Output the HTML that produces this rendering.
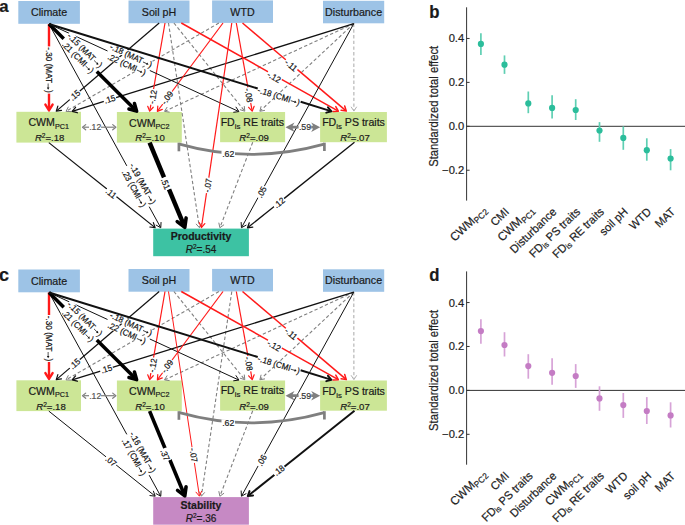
<!DOCTYPE html>
<html><head><meta charset="utf-8"><title>SEM figure</title>
<style>html,body{margin:0;padding:0;background:#fff;width:685px;height:525px;overflow:hidden}
svg{display:block;font-family:"Liberation Sans",sans-serif}</style></head>
<body><svg width="685" height="525" viewBox="0 0 685 525" font-family="Liberation Sans, sans-serif"><rect width="685" height="525" fill="#fff"/><rect x="18.3" y="1" width="61.6" height="22.8" fill="#9dc3e6"/><rect x="128.5" y="0.5" width="61" height="22.7" fill="#9dc3e6"/><rect x="212.1" y="0.4" width="60.9" height="22.5" fill="#9dc3e6"/><rect x="323" y="0.8" width="61.2" height="22.5" fill="#9dc3e6"/><rect x="16.4" y="111.8" width="64.6" height="30.8" fill="#cce696"/><rect x="116.9" y="112" width="64.9" height="30.6" fill="#cce696"/><rect x="220.1" y="112" width="65" height="30.2" fill="#cce696"/><rect x="320.1" y="112" width="66.8" height="30.2" fill="#cce696"/><rect x="153.2" y="228.6" width="95.7" height="27.6" fill="#3dc2a3"/><line x1="173.9" y1="23" x2="244.27" y2="110.57" stroke="#808080" stroke-width="1.1" stroke-dasharray="3.4,2.3" stroke-linecap="butt"/><polyline points="240.25,109.72 244.79,111.21 244.31,106.46" fill="none" stroke="#808080" stroke-width="1" stroke-linejoin="round" stroke-linecap="round"/><line x1="218.9" y1="23" x2="66.74" y2="110.94" stroke="#808080" stroke-width="1.1" stroke-dasharray="3.4,2.3" stroke-linecap="butt"/><polyline points="68.2,107.1 66.03,111.35 70.8,111.6" fill="none" stroke="#808080" stroke-width="1" stroke-linejoin="round" stroke-linecap="round"/><line x1="353.8" y1="23.6" x2="165.2" y2="111.04" stroke="#808080" stroke-width="1.1" stroke-dasharray="3.4,2.3" stroke-linecap="butt"/><polyline points="166.99,107.35 164.45,111.39 169.18,112.07" fill="none" stroke="#808080" stroke-width="1" stroke-linejoin="round" stroke-linecap="round"/><line x1="353.8" y1="23.6" x2="260.47" y2="110.7" stroke="#808080" stroke-width="1.1" stroke-dasharray="3.4,2.3" stroke-linecap="butt"/><polyline points="261.02,106.63 259.87,111.26 264.56,110.43" fill="none" stroke="#808080" stroke-width="1" stroke-linejoin="round" stroke-linecap="round"/><line x1="353.8" y1="23.6" x2="353.9" y2="110.28" stroke="#b0b0b0" stroke-width="1.1" stroke-dasharray="3.4,2.3" stroke-linecap="butt"/><polyline points="351.29,107.1 353.9,111.1 356.49,107.1" fill="none" stroke="#b0b0b0" stroke-width="1" stroke-linejoin="round" stroke-linecap="round"/><line x1="252.7" y1="142.3" x2="220.17" y2="226.97" stroke="#808080" stroke-width="1.1" stroke-dasharray="3.4,2.3" stroke-linecap="butt"/><polyline points="218.89,223.07 219.88,227.73 223.74,224.93" fill="none" stroke="#808080" stroke-width="1" stroke-linejoin="round" stroke-linecap="round"/><line x1="168.5" y1="23" x2="199.3" y2="226.89" stroke="#808080" stroke-width="1.1" stroke-dasharray="3.4,2.3" stroke-linecap="butt"/><polyline points="196.26,224.14 199.43,227.71 201.4,223.36" fill="none" stroke="#808080" stroke-width="1" stroke-linejoin="round" stroke-linecap="round"/><line x1="49" y1="24" x2="49" y2="46.71" stroke="#ff1a1a" stroke-width="2.4" stroke-linecap="butt"/><line x1="49" y1="93.29" x2="49" y2="108.72" stroke="#ff1a1a" stroke-width="2.4" stroke-linecap="butt"/><polyline points="45.4,104.6 49,110.4 52.6,104.6" fill="none" stroke="#ff1a1a" stroke-width="2.4" stroke-linejoin="round" stroke-linecap="round"/><line x1="159.2" y1="23" x2="79.57" y2="91.23" stroke="#111" stroke-width="1.2" stroke-linecap="butt"/><line x1="70.03" y1="99.4" x2="56.89" y2="110.66" stroke="#111" stroke-width="1.2" stroke-linecap="butt"/><polyline points="57.85,106.16 56.26,111.21 61.49,110.41" fill="none" stroke="#111" stroke-width="1.2" stroke-linejoin="round" stroke-linecap="round"/><line x1="353.8" y1="23.6" x2="115.98" y2="97.73" stroke="#111" stroke-width="1.3" stroke-linecap="butt"/><line x1="103.99" y1="101.47" x2="72.99" y2="111.14" stroke="#111" stroke-width="1.3" stroke-linecap="butt"/><polyline points="75.58,107.39 72.12,111.41 77.25,112.74" fill="none" stroke="#111" stroke-width="1.3" stroke-linejoin="round" stroke-linecap="round"/><line x1="165" y1="23" x2="153.5" y2="89.29" stroke="#ff1a1a" stroke-width="1.2" stroke-linecap="butt"/><line x1="150.89" y1="104.34" x2="149.85" y2="110.38" stroke="#ff1a1a" stroke-width="1.2" stroke-linecap="butt"/><polyline points="147.71,106.3 149.7,111.21 153.23,107.25" fill="none" stroke="#ff1a1a" stroke-width="1.2" stroke-linejoin="round" stroke-linecap="round"/><line x1="223" y1="23" x2="171.9" y2="91.75" stroke="#ff1a1a" stroke-width="1.2" stroke-linecap="butt"/><line x1="162.79" y1="104.01" x2="157.86" y2="110.64" stroke="#ff1a1a" stroke-width="1.2" stroke-linecap="butt"/><polyline points="157.8,106.04 157.36,111.32 162.29,109.38" fill="none" stroke="#ff1a1a" stroke-width="1.2" stroke-linejoin="round" stroke-linecap="round"/><line x1="236.3" y1="23" x2="247.94" y2="87.61" stroke="#ff1a1a" stroke-width="1.2" stroke-linecap="butt"/><line x1="250.65" y1="102.65" x2="252.04" y2="110.38" stroke="#ff1a1a" stroke-width="1.2" stroke-linecap="butt"/><polyline points="248.64,107.28 252.19,111.21 254.15,106.28" fill="none" stroke="#ff1a1a" stroke-width="1.2" stroke-linejoin="round" stroke-linecap="round"/><line x1="242.5" y1="23" x2="286.04" y2="59.95" stroke="#ff1a1a" stroke-width="1.5" stroke-linecap="butt"/><line x1="297.22" y1="69.44" x2="345.53" y2="110.44" stroke="#ff1a1a" stroke-width="1.5" stroke-linecap="butt"/><polyline points="341.09,110.34 346.33,111.11 344.71,106.07" fill="none" stroke="#ff1a1a" stroke-width="1.5" stroke-linejoin="round" stroke-linecap="round"/><line x1="181.3" y1="23" x2="268.24" y2="71.84" stroke="#ff1a1a" stroke-width="1.5" stroke-linecap="butt"/><line x1="281.55" y1="79.33" x2="337.43" y2="110.72" stroke="#ff1a1a" stroke-width="1.5" stroke-linecap="butt"/><polyline points="333.05,111.47 338.35,111.23 335.79,106.59" fill="none" stroke="#ff1a1a" stroke-width="1.5" stroke-linejoin="round" stroke-linecap="round"/><line x1="49" y1="24" x2="107.52" y2="50.98" stroke="#111" stroke-width="1" stroke-linecap="butt"/><line x1="149.81" y1="70.49" x2="238.31" y2="111.3" stroke="#111" stroke-width="1" stroke-linecap="butt"/><polyline points="233.69,112.25 238.95,111.59 236.03,107.16" fill="none" stroke="#111" stroke-width="1" stroke-linejoin="round" stroke-linecap="round"/><line x1="231.8" y1="23" x2="208.79" y2="177.84" stroke="#ff1a1a" stroke-width="1.2" stroke-linecap="butt"/><line x1="206.54" y1="192.95" x2="201.51" y2="226.78" stroke="#ff1a1a" stroke-width="1.2" stroke-linecap="butt"/><polyline points="199.28,222.74 201.39,227.61 204.82,223.57" fill="none" stroke="#ff1a1a" stroke-width="1.2" stroke-linejoin="round" stroke-linecap="round"/><line x1="49" y1="24" x2="126.81" y2="165.86" stroke="#111" stroke-width="1" stroke-linecap="butt"/><line x1="149.2" y1="206.69" x2="160.42" y2="227.15" stroke="#111" stroke-width="1" stroke-linecap="butt"/><polyline points="156.14,225.16 160.76,227.76 161.05,222.47" fill="none" stroke="#111" stroke-width="1" stroke-linejoin="round" stroke-linecap="round"/><line x1="48.8" y1="142.6" x2="106.93" y2="189.08" stroke="#111" stroke-width="1.2" stroke-linecap="butt"/><line x1="116.26" y1="196.54" x2="154.48" y2="227.1" stroke="#111" stroke-width="1.2" stroke-linecap="butt"/><polyline points="149.87,227 155.13,227.63 153.37,222.63" fill="none" stroke="#111" stroke-width="1.2" stroke-linejoin="round" stroke-linecap="round"/><line x1="149.6" y1="142.6" x2="164.12" y2="177.56" stroke="#000" stroke-width="4.5" stroke-linecap="butt"/><line x1="168.94" y1="189.15" x2="183.43" y2="224.01" stroke="#000" stroke-width="4.5" stroke-linecap="butt"/><polyline points="177.23,221.61 184.81,227.34 186.1,217.92" fill="none" stroke="#000" stroke-width="3.6" stroke-linejoin="round" stroke-linecap="round"/><line x1="353.8" y1="23.6" x2="264.22" y2="186.37" stroke="#111" stroke-width="1" stroke-linecap="butt"/><line x1="258.16" y1="197.38" x2="241.78" y2="227.15" stroke="#111" stroke-width="1" stroke-linecap="butt"/><polyline points="241.16,222.47 241.44,227.76 246.06,225.17" fill="none" stroke="#111" stroke-width="1" stroke-linejoin="round" stroke-linecap="round"/><line x1="354.5" y1="142.2" x2="283.96" y2="198.63" stroke="#111" stroke-width="1.3" stroke-linecap="butt"/><line x1="274.16" y1="206.47" x2="248.22" y2="227.23" stroke="#111" stroke-width="1.3" stroke-linecap="butt"/><polyline points="249.27,222.8 247.51,227.79 252.77,227.17" fill="none" stroke="#111" stroke-width="1.3" stroke-linejoin="round" stroke-linecap="round"/><line x1="49" y1="24" x2="63.78" y2="38.7" stroke="#000" stroke-width="3.5" stroke-linecap="butt"/><line x1="96.8" y1="71.53" x2="134.92" y2="109.44" stroke="#000" stroke-width="3.5" stroke-linecap="butt"/><polyline points="128.95,109 136.66,111.17 134.45,103.46" fill="none" stroke="#000" stroke-width="3.5" stroke-linejoin="round" stroke-linecap="round"/><g transform="translate(49,70) rotate(90) scale(0.95,1)"><rect x="-24.68" y="-3.61" width="49.36" height="7.22" fill="#fff"/><text x="-23.88" y="3.1" font-size="8.6" fill="#111" stroke="#111" stroke-width="0.2">-.30 (MAT</text><line x1="14.22" y1="0.86" x2="19.33" y2="0.86" stroke="#111" stroke-width="0.73"/><polygon points="20.67,0.86 18.44,-0.43 18.44,2.15" fill="#111"/><text x="21.02" y="3.1" font-size="8.6" fill="#111" stroke="#111" stroke-width="0.2">)</text></g><g transform="translate(74.7,95.2) rotate(-40.59) scale(0.95,1)"><rect x="-6.78" y="-3.61" width="13.55" height="7.22" fill="#fff"/><text x="0" y="3.1" text-anchor="middle" font-size="8.6" fill="#111" stroke="#111" stroke-width="0.2">.15</text></g><g transform="translate(109.8,99) rotate(-17.31) scale(0.95,1)"><rect x="-6.78" y="-3.61" width="13.55" height="7.22" fill="#fff"/><text x="0" y="3.1" text-anchor="middle" font-size="8.6" fill="#111" stroke="#111" stroke-width="0.2">.15</text></g><g transform="translate(152.7,96.9) rotate(-80.16) scale(0.95,1)"><rect x="-8.21" y="-3.61" width="16.42" height="7.22" fill="#fff"/><text x="0" y="3.1" text-anchor="middle" font-size="8.6" fill="#111" stroke="#111" stroke-width="0.2">-.12</text></g><g transform="translate(167.1,97.7) rotate(-53.38) scale(0.95,1)"><rect x="-8.21" y="-3.61" width="16.42" height="7.22" fill="#fff"/><text x="0" y="3.1" text-anchor="middle" font-size="8.6" fill="#111" stroke="#111" stroke-width="0.2">-.09</text></g><g transform="translate(248.9,95.2) rotate(79.79) scale(0.95,1)"><rect x="-8.21" y="-3.61" width="16.42" height="7.22" fill="#fff"/><text x="0" y="3.1" text-anchor="middle" font-size="8.6" fill="#111" stroke="#111" stroke-width="0.2">-.08</text></g><g transform="translate(291.2,65.2) rotate(40.32) scale(0.95,1)"><rect x="-7.89" y="-3.61" width="15.78" height="7.22" fill="#fff"/><text x="0" y="3.1" text-anchor="middle" font-size="8.6" fill="#111" stroke="#111" stroke-width="0.2">-.11</text></g><g transform="translate(274.1,77) rotate(29.33) scale(0.95,1)"><rect x="-8.21" y="-3.61" width="16.42" height="7.22" fill="#fff"/><text x="0" y="3.1" text-anchor="middle" font-size="8.6" fill="#111" stroke="#111" stroke-width="0.2">-.12</text></g><g transform="translate(129,60) rotate(24.76) scale(0.95,1)"><rect x="-24.68" y="-8.56" width="49.36" height="7.22" fill="#fff"/><text x="-23.88" y="-1.85" font-size="8.6" fill="#111" stroke="#111" stroke-width="0.2">-.18 (MAT</text><line x1="14.22" y1="-4.08" x2="19.33" y2="-4.08" stroke="#111" stroke-width="0.73"/><polygon points="20.67,-4.08 18.44,-5.37 18.44,-2.79" fill="#111"/><text x="21.02" y="-1.85" font-size="8.6" fill="#111" stroke="#111" stroke-width="0.2">)</text><rect x="-22.37" y="1.33" width="44.74" height="7.22" fill="#fff"/><text x="-21.57" y="8.04" font-size="8.6" fill="#111" stroke="#111" stroke-width="0.2">.22 (CMI</text><line x1="11.91" y1="5.8" x2="17.02" y2="5.8" stroke="#111" stroke-width="0.73"/><polygon points="18.36,5.8 16.13,4.51 16.13,7.09" fill="#111"/><text x="18.71" y="8.04" font-size="8.6" fill="#111" stroke="#111" stroke-width="0.2">)</text></g><g transform="translate(207.7,185.4) rotate(-81.55) scale(0.95,1)"><rect x="-8.21" y="-3.61" width="16.42" height="7.22" fill="#fff"/><text x="0" y="3.1" text-anchor="middle" font-size="8.6" fill="#111" stroke="#111" stroke-width="0.2">-.07</text></g><g transform="translate(138.5,186) rotate(61.26) scale(0.95,1)"><rect x="-24.68" y="-8.56" width="49.36" height="7.22" fill="#fff"/><text x="-23.88" y="-1.85" font-size="8.6" fill="#111" stroke="#111" stroke-width="0.2">-.19 (MAT</text><line x1="14.22" y1="-4.08" x2="19.33" y2="-4.08" stroke="#111" stroke-width="0.73"/><polygon points="20.67,-4.08 18.44,-5.37 18.44,-2.79" fill="#111"/><text x="21.02" y="-1.85" font-size="8.6" fill="#111" stroke="#111" stroke-width="0.2">)</text><rect x="-22.37" y="1.33" width="44.74" height="7.22" fill="#fff"/><text x="-21.57" y="8.04" font-size="8.6" fill="#111" stroke="#111" stroke-width="0.2">.23 (CMI</text><line x1="11.91" y1="5.8" x2="17.02" y2="5.8" stroke="#111" stroke-width="0.73"/><polygon points="18.36,5.8 16.13,4.51 16.13,7.09" fill="#111"/><text x="18.71" y="8.04" font-size="8.6" fill="#111" stroke="#111" stroke-width="0.2">)</text></g><g transform="translate(111.2,193.3) rotate(38.65) scale(0.95,1)"><rect x="-6.46" y="-3.61" width="12.92" height="7.22" fill="#fff"/><text x="0" y="3.1" text-anchor="middle" font-size="8.6" fill="#111" stroke="#111" stroke-width="0.2">.11</text></g><g transform="translate(165.7,183.7) rotate(67.44) scale(0.95,1)"><rect x="-6.78" y="-3.61" width="13.55" height="7.22" fill="#fff"/><text x="0" y="3.1" text-anchor="middle" font-size="8.6" fill="#111" stroke="#111" stroke-width="0.2">.51</text></g><g transform="translate(261.6,192.1) rotate(-61.17) scale(0.95,1)"><rect x="-6.78" y="-3.61" width="13.55" height="7.22" fill="#fff"/><text x="0" y="3.1" text-anchor="middle" font-size="8.6" fill="#111" stroke="#111" stroke-width="0.2">.05</text></g><g transform="translate(279.1,202.6) rotate(-38.66) scale(0.95,1)"><rect x="-6.78" y="-3.61" width="13.55" height="7.22" fill="#fff"/><text x="0" y="3.1" text-anchor="middle" font-size="8.6" fill="#111" stroke="#111" stroke-width="0.2">.12</text></g><g transform="translate(81.6,53.8) rotate(44.84) scale(0.95,1)"><rect x="-24.68" y="-8.56" width="49.36" height="7.22" fill="#fff"/><text x="-23.88" y="-1.85" font-size="8.6" fill="#111" stroke="#111" stroke-width="0.2">-.15 (MAT</text><line x1="14.22" y1="-4.08" x2="19.33" y2="-4.08" stroke="#111" stroke-width="0.73"/><polygon points="20.67,-4.08 18.44,-5.37 18.44,-2.79" fill="#111"/><text x="21.02" y="-1.85" font-size="8.6" fill="#111" stroke="#111" stroke-width="0.2">)</text><rect x="-22.37" y="1.33" width="44.74" height="7.22" fill="#fff"/><text x="-21.57" y="8.04" font-size="8.6" fill="#111" stroke="#111" stroke-width="0.2">.21 (CMI</text><line x1="11.91" y1="5.8" x2="17.02" y2="5.8" stroke="#111" stroke-width="0.73"/><polygon points="18.36,5.8 16.13,4.51 16.13,7.09" fill="#111"/><text x="18.71" y="8.04" font-size="8.6" fill="#111" stroke="#111" stroke-width="0.2">)</text></g><g transform="translate(278.9,96.1) rotate(17.18) scale(0.95,1)"><rect x="-23.8" y="-3.61" width="47.61" height="7.22" fill="#fff"/><text x="-23" y="3.1" font-size="8.6" fill="#111" stroke="#111" stroke-width="0.2">-.18 (CMI</text><line x1="13.35" y1="0.86" x2="18.45" y2="0.86" stroke="#111" stroke-width="0.73"/><polygon points="19.8,0.86 17.56,-0.43 17.56,2.15" fill="#111"/><text x="20.14" y="3.1" font-size="8.6" fill="#111" stroke="#111" stroke-width="0.2">)</text></g><line x1="49" y1="24" x2="257.74" y2="88.52" stroke="#111" stroke-width="2" stroke-linecap="butt"/><line x1="300.64" y1="101.78" x2="330.11" y2="110.89" stroke="#111" stroke-width="2" stroke-linecap="butt"/><polyline points="326.32,112.65 331.44,111.3 327.97,107.3" fill="none" stroke="#111" stroke-width="2" stroke-linejoin="round" stroke-linecap="round"/><line x1="84" y1="127.2" x2="89" y2="127.2" stroke="#7f7f7f" stroke-width="1.2" stroke-linecap="butt"/><line x1="101" y1="127.2" x2="114.5" y2="127.2" stroke="#7f7f7f" stroke-width="1.2" stroke-linecap="butt"/><polyline points="85.7,124.6 82.5,127.2 85.7,129.8" fill="none" stroke="#7f7f7f" stroke-width="1.2" stroke-linejoin="round" stroke-linecap="round"/><polyline points="112.7,129.8 115.9,127.2 112.7,124.6" fill="none" stroke="#7f7f7f" stroke-width="1.2" stroke-linejoin="round" stroke-linecap="round"/><text x="95.2" y="130.2" text-anchor="middle" font-size="8.6" font-weight="normal" fill="#555" stroke="#555" stroke-width="0.2">.12</text><polygon points="285.5,127.2 294.5,122.4 292.6,125.8 300,125.8 300,128.6 292.6,128.6 294.5,132" fill="#7f7f7f"/><polygon points="320.2,127.2 311.2,122.4 313.1,125.8 306,125.8 306,128.6 313.1,128.6 311.2,132" fill="#7f7f7f"/><rect x="298.6" y="123.9" width="12.6" height="6.6" fill="#fff"/><text x="305" y="130.3" text-anchor="middle" font-size="8.8" font-weight="normal" fill="#333" stroke="#333" stroke-width="0.2">.59</text><path d="M179.5,144.2 Q251.5,164.5 324.2,144.2" fill="none" stroke="#7f7f7f" stroke-width="2.9"/><line x1="178.9" y1="142.7" x2="178.9" y2="151.3" stroke="#7f7f7f" stroke-width="2.7" stroke-linecap="butt"/><line x1="324.4" y1="142.7" x2="324.4" y2="151" stroke="#7f7f7f" stroke-width="2.7" stroke-linecap="butt"/><rect x="221.5" y="150.8" width="13.5" height="7" fill="#fff"/><text x="228.3" y="157.4" text-anchor="middle" font-size="8.8" font-weight="normal" fill="#222" stroke="#222" stroke-width="0.2">.62</text><text x="49.1" y="16.3" text-anchor="middle" font-size="10.7" font-weight="normal" fill="#1a1a1a" stroke="#1a1a1a" stroke-width="0.2">Climate</text><text x="159" y="15.9" text-anchor="middle" font-size="10.7" font-weight="normal" fill="#1a1a1a" stroke="#1a1a1a" stroke-width="0.2">Soil pH</text><text x="242.5" y="15.6" text-anchor="middle" font-size="10.7" font-weight="normal" fill="#1a1a1a" stroke="#1a1a1a" stroke-width="0.2">WTD</text><text x="353.6" y="15.7" text-anchor="middle" font-size="10.7" font-weight="normal" fill="#1a1a1a" stroke="#1a1a1a" stroke-width="0.2">Disturbance</text><text x="48.7" y="126.4" text-anchor="middle" font-size="10.6" fill="#1a1a1a" stroke="#1a1a1a" stroke-width="0.2">CWM<tspan font-size="7.2" dy="2.2">PC1</tspan></text><text x="49.7" y="141" text-anchor="middle" font-size="9.6" fill="#1a1a1a" stroke="#1a1a1a" stroke-width="0.2"><tspan font-style="italic">R</tspan><tspan font-size="6.6" dy="-3.4">2</tspan><tspan dy="3.4">=.18</tspan></text><text x="149.3" y="126.5" text-anchor="middle" font-size="10.6" fill="#1a1a1a" stroke="#1a1a1a" stroke-width="0.2">CWM<tspan font-size="7.2" dy="2.2">PC2</tspan></text><text x="150" y="141" text-anchor="middle" font-size="9.6" fill="#1a1a1a" stroke="#1a1a1a" stroke-width="0.2"><tspan font-style="italic">R</tspan><tspan font-size="6.6" dy="-3.4">2</tspan><tspan dy="3.4">=.10</tspan></text><text x="252.3" y="125.9" text-anchor="middle" font-size="10.6" fill="#1a1a1a" stroke="#1a1a1a" stroke-width="0.2">FD<tspan font-size="7.8" dy="2.8">is</tspan><tspan dy="-2.8"> RE traits</tspan><tspan font-size="7.2" dy="2.2"></tspan></text><text x="254.1" y="141" text-anchor="middle" font-size="9.6" fill="#1a1a1a" stroke="#1a1a1a" stroke-width="0.2"><tspan font-style="italic">R</tspan><tspan font-size="6.6" dy="-3.4">2</tspan><tspan dy="3.4">=.09</tspan></text><text x="353.5" y="126.4" text-anchor="middle" font-size="10.6" fill="#1a1a1a" stroke="#1a1a1a" stroke-width="0.2">FD<tspan font-size="7.8" dy="2.8">is</tspan><tspan dy="-2.8"> PS traits</tspan><tspan font-size="7.2" dy="2.2"></tspan></text><text x="355" y="141" text-anchor="middle" font-size="9.6" fill="#1a1a1a" stroke="#1a1a1a" stroke-width="0.2"><tspan font-style="italic">R</tspan><tspan font-size="6.6" dy="-3.4">2</tspan><tspan dy="3.4">=.07</tspan></text><text x="201" y="239.6" text-anchor="middle" font-size="10.5" font-weight="bold" fill="#1a1a1a" stroke="#1a1a1a" stroke-width="0.2">Productivity</text><text x="201" y="252.8" text-anchor="middle" font-size="10" fill="#1a1a1a" stroke="#1a1a1a" stroke-width="0.2"><tspan font-style="italic">R</tspan><tspan font-size="6.5" dy="-3.5">2</tspan><tspan dy="3.5">=.54</tspan></text><text x="-0.8" y="11.55" text-anchor="start" font-size="16.8" font-weight="bold" fill="#1a1a1a" stroke="#1a1a1a" stroke-width="0.2">a</text><rect x="18.3" y="269.5" width="61.6" height="22.8" fill="#9dc3e6"/><rect x="128.5" y="269" width="61" height="22.7" fill="#9dc3e6"/><rect x="212.1" y="268.9" width="60.9" height="22.5" fill="#9dc3e6"/><rect x="323" y="269.3" width="61.2" height="22.5" fill="#9dc3e6"/><rect x="16.4" y="380.3" width="64.6" height="30.8" fill="#cce696"/><rect x="116.9" y="380.5" width="64.9" height="30.6" fill="#cce696"/><rect x="220.1" y="380.5" width="65" height="30.2" fill="#cce696"/><rect x="320.1" y="380.5" width="66.8" height="30.2" fill="#cce696"/><rect x="153.2" y="497.1" width="95.7" height="27.6" fill="#c689c4"/><line x1="173.9" y1="291.5" x2="244.27" y2="379.07" stroke="#808080" stroke-width="1.1" stroke-dasharray="3.4,2.3" stroke-linecap="butt"/><polyline points="240.25,378.22 244.79,379.71 244.31,374.96" fill="none" stroke="#808080" stroke-width="1" stroke-linejoin="round" stroke-linecap="round"/><line x1="218.9" y1="291.5" x2="66.74" y2="379.44" stroke="#808080" stroke-width="1.1" stroke-dasharray="3.4,2.3" stroke-linecap="butt"/><polyline points="68.2,375.6 66.03,379.85 70.8,380.1" fill="none" stroke="#808080" stroke-width="1" stroke-linejoin="round" stroke-linecap="round"/><line x1="353.8" y1="292.1" x2="165.2" y2="379.54" stroke="#808080" stroke-width="1.1" stroke-dasharray="3.4,2.3" stroke-linecap="butt"/><polyline points="166.99,375.85 164.45,379.89 169.18,380.57" fill="none" stroke="#808080" stroke-width="1" stroke-linejoin="round" stroke-linecap="round"/><line x1="353.8" y1="292.1" x2="260.47" y2="379.2" stroke="#808080" stroke-width="1.1" stroke-dasharray="3.4,2.3" stroke-linecap="butt"/><polyline points="261.02,375.13 259.87,379.76 264.56,378.93" fill="none" stroke="#808080" stroke-width="1" stroke-linejoin="round" stroke-linecap="round"/><line x1="353.8" y1="292.1" x2="353.9" y2="378.78" stroke="#b0b0b0" stroke-width="1.1" stroke-dasharray="3.4,2.3" stroke-linecap="butt"/><polyline points="351.29,375.6 353.9,379.6 356.49,375.6" fill="none" stroke="#b0b0b0" stroke-width="1" stroke-linejoin="round" stroke-linecap="round"/><line x1="252.7" y1="410.8" x2="220.17" y2="495.47" stroke="#808080" stroke-width="1.1" stroke-dasharray="3.4,2.3" stroke-linecap="butt"/><polyline points="218.89,491.57 219.88,496.23 223.74,493.43" fill="none" stroke="#808080" stroke-width="1" stroke-linejoin="round" stroke-linecap="round"/><line x1="231.8" y1="291.5" x2="201.49" y2="495.39" stroke="#808080" stroke-width="1.1" stroke-dasharray="3.4,2.3" stroke-linecap="butt"/><polyline points="199.39,491.87 201.37,496.21 204.53,492.63" fill="none" stroke="#808080" stroke-width="1" stroke-linejoin="round" stroke-linecap="round"/><line x1="49" y1="292.5" x2="49" y2="315.21" stroke="#ff1a1a" stroke-width="2.4" stroke-linecap="butt"/><line x1="49" y1="361.79" x2="49" y2="377.22" stroke="#ff1a1a" stroke-width="2.4" stroke-linecap="butt"/><polyline points="45.4,373.1 49,378.9 52.6,373.1" fill="none" stroke="#ff1a1a" stroke-width="2.4" stroke-linejoin="round" stroke-linecap="round"/><line x1="159.2" y1="291.5" x2="79.57" y2="359.73" stroke="#111" stroke-width="1.2" stroke-linecap="butt"/><line x1="70.03" y1="367.9" x2="56.89" y2="379.16" stroke="#111" stroke-width="1.2" stroke-linecap="butt"/><polyline points="57.85,374.66 56.26,379.71 61.49,378.91" fill="none" stroke="#111" stroke-width="1.2" stroke-linejoin="round" stroke-linecap="round"/><line x1="353.8" y1="292.1" x2="112.51" y2="367.32" stroke="#111" stroke-width="1.3" stroke-linecap="butt"/><line x1="100.53" y1="371.05" x2="72.99" y2="379.64" stroke="#111" stroke-width="1.3" stroke-linecap="butt"/><polyline points="75.58,375.89 72.12,379.91 77.25,381.24" fill="none" stroke="#111" stroke-width="1.3" stroke-linejoin="round" stroke-linecap="round"/><line x1="165" y1="291.5" x2="153.5" y2="357.79" stroke="#ff1a1a" stroke-width="1.2" stroke-linecap="butt"/><line x1="150.89" y1="372.84" x2="149.85" y2="378.88" stroke="#ff1a1a" stroke-width="1.2" stroke-linecap="butt"/><polyline points="147.71,374.8 149.7,379.71 153.23,375.75" fill="none" stroke="#ff1a1a" stroke-width="1.2" stroke-linejoin="round" stroke-linecap="round"/><line x1="223" y1="291.5" x2="171.9" y2="360.25" stroke="#ff1a1a" stroke-width="1.2" stroke-linecap="butt"/><line x1="162.79" y1="372.51" x2="157.86" y2="379.14" stroke="#ff1a1a" stroke-width="1.2" stroke-linecap="butt"/><polyline points="157.8,374.54 157.36,379.82 162.29,377.88" fill="none" stroke="#ff1a1a" stroke-width="1.2" stroke-linejoin="round" stroke-linecap="round"/><line x1="236.3" y1="291.5" x2="247.94" y2="356.11" stroke="#ff1a1a" stroke-width="1.2" stroke-linecap="butt"/><line x1="250.65" y1="371.15" x2="252.04" y2="378.88" stroke="#ff1a1a" stroke-width="1.2" stroke-linecap="butt"/><polyline points="248.64,375.78 252.19,379.71 254.15,374.78" fill="none" stroke="#ff1a1a" stroke-width="1.2" stroke-linejoin="round" stroke-linecap="round"/><line x1="242.5" y1="291.5" x2="286.04" y2="328.45" stroke="#ff1a1a" stroke-width="1.5" stroke-linecap="butt"/><line x1="297.22" y1="337.94" x2="345.53" y2="378.94" stroke="#ff1a1a" stroke-width="1.5" stroke-linecap="butt"/><polyline points="341.09,378.84 346.33,379.61 344.71,374.57" fill="none" stroke="#ff1a1a" stroke-width="1.5" stroke-linejoin="round" stroke-linecap="round"/><line x1="181.3" y1="291.5" x2="268.24" y2="340.34" stroke="#ff1a1a" stroke-width="1.5" stroke-linecap="butt"/><line x1="281.55" y1="347.83" x2="337.43" y2="379.22" stroke="#ff1a1a" stroke-width="1.5" stroke-linecap="butt"/><polyline points="333.05,379.97 338.35,379.73 335.79,375.09" fill="none" stroke="#ff1a1a" stroke-width="1.5" stroke-linejoin="round" stroke-linecap="round"/><line x1="49" y1="292.5" x2="107.52" y2="319.48" stroke="#111" stroke-width="1" stroke-linecap="butt"/><line x1="149.81" y1="338.99" x2="238.31" y2="379.8" stroke="#111" stroke-width="1" stroke-linecap="butt"/><polyline points="233.69,380.75 238.95,380.09 236.03,375.66" fill="none" stroke="#111" stroke-width="1" stroke-linejoin="round" stroke-linecap="round"/><line x1="168.5" y1="291.5" x2="192.07" y2="447.52" stroke="#ff1a1a" stroke-width="1" stroke-linecap="butt"/><line x1="194.35" y1="462.63" x2="199.32" y2="495.51" stroke="#ff1a1a" stroke-width="1" stroke-linecap="butt"/><polyline points="195.98,492.17 199.43,496.21 201.52,491.34" fill="none" stroke="#ff1a1a" stroke-width="1" stroke-linejoin="round" stroke-linecap="round"/><line x1="49" y1="292.5" x2="126.81" y2="434.36" stroke="#111" stroke-width="1" stroke-linecap="butt"/><line x1="149.2" y1="475.19" x2="160.42" y2="495.65" stroke="#111" stroke-width="1" stroke-linecap="butt"/><polyline points="156.14,493.66 160.76,496.26 161.05,490.97" fill="none" stroke="#111" stroke-width="1" stroke-linejoin="round" stroke-linecap="round"/><line x1="48.8" y1="411.1" x2="106.24" y2="457.03" stroke="#111" stroke-width="1" stroke-linecap="butt"/><line x1="116.04" y1="464.87" x2="154.66" y2="495.75" stroke="#111" stroke-width="1" stroke-linecap="butt"/><polyline points="149.95,495.56 155.21,496.19 153.44,491.19" fill="none" stroke="#111" stroke-width="1" stroke-linejoin="round" stroke-linecap="round"/><line x1="149.6" y1="411.1" x2="165.02" y2="448.22" stroke="#000" stroke-width="3.6" stroke-linecap="butt"/><line x1="169.84" y1="459.81" x2="183.84" y2="493.51" stroke="#000" stroke-width="3.6" stroke-linecap="butt"/><polyline points="177.57,490.4 184.81,495.84 186.06,486.87" fill="none" stroke="#000" stroke-width="3.6" stroke-linejoin="round" stroke-linecap="round"/><line x1="353.8" y1="292.1" x2="264.37" y2="454.6" stroke="#111" stroke-width="1" stroke-linecap="butt"/><line x1="258.31" y1="465.6" x2="241.78" y2="495.65" stroke="#111" stroke-width="1" stroke-linecap="butt"/><polyline points="241.16,490.97 241.44,496.26 246.06,493.67" fill="none" stroke="#111" stroke-width="1" stroke-linejoin="round" stroke-linecap="round"/><line x1="354.5" y1="410.7" x2="284.34" y2="466.83" stroke="#111" stroke-width="2" stroke-linecap="butt"/><line x1="274.54" y1="474.67" x2="248.87" y2="495.2" stroke="#111" stroke-width="2" stroke-linecap="butt"/><polyline points="249.55,491.08 247.78,496.08 253.04,495.45" fill="none" stroke="#111" stroke-width="2" stroke-linejoin="round" stroke-linecap="round"/><line x1="49" y1="292.5" x2="63.78" y2="307.2" stroke="#000" stroke-width="3.5" stroke-linecap="butt"/><line x1="96.8" y1="340.03" x2="134.92" y2="377.94" stroke="#000" stroke-width="3.5" stroke-linecap="butt"/><polyline points="128.95,377.5 136.66,379.67 134.45,371.96" fill="none" stroke="#000" stroke-width="3.5" stroke-linejoin="round" stroke-linecap="round"/><g transform="translate(49,338.5) rotate(90) scale(0.95,1)"><rect x="-24.68" y="-3.61" width="49.36" height="7.22" fill="#fff"/><text x="-23.88" y="3.1" font-size="8.6" fill="#111" stroke="#111" stroke-width="0.2">-.30 (MAT</text><line x1="14.22" y1="0.86" x2="19.33" y2="0.86" stroke="#111" stroke-width="0.73"/><polygon points="20.67,0.86 18.44,-0.43 18.44,2.15" fill="#111"/><text x="21.02" y="3.1" font-size="8.6" fill="#111" stroke="#111" stroke-width="0.2">)</text></g><g transform="translate(74.7,363.7) rotate(-40.59) scale(0.95,1)"><rect x="-6.78" y="-3.61" width="13.55" height="7.22" fill="#fff"/><text x="0" y="3.1" text-anchor="middle" font-size="8.6" fill="#111" stroke="#111" stroke-width="0.2">.15</text></g><g transform="translate(106.4,368.8) rotate(-17.31) scale(0.95,1)"><rect x="-6.78" y="-3.61" width="13.55" height="7.22" fill="#fff"/><text x="0" y="3.1" text-anchor="middle" font-size="8.6" fill="#111" stroke="#111" stroke-width="0.2">.15</text></g><g transform="translate(152.7,365.4) rotate(-80.16) scale(0.95,1)"><rect x="-8.21" y="-3.61" width="16.42" height="7.22" fill="#fff"/><text x="0" y="3.1" text-anchor="middle" font-size="8.6" fill="#111" stroke="#111" stroke-width="0.2">-.12</text></g><g transform="translate(167.1,366.2) rotate(-53.38) scale(0.95,1)"><rect x="-8.21" y="-3.61" width="16.42" height="7.22" fill="#fff"/><text x="0" y="3.1" text-anchor="middle" font-size="8.6" fill="#111" stroke="#111" stroke-width="0.2">-.09</text></g><g transform="translate(248.9,363.7) rotate(79.79) scale(0.95,1)"><rect x="-8.21" y="-3.61" width="16.42" height="7.22" fill="#fff"/><text x="0" y="3.1" text-anchor="middle" font-size="8.6" fill="#111" stroke="#111" stroke-width="0.2">-.08</text></g><g transform="translate(291.2,333.7) rotate(40.32) scale(0.95,1)"><rect x="-7.89" y="-3.61" width="15.78" height="7.22" fill="#fff"/><text x="0" y="3.1" text-anchor="middle" font-size="8.6" fill="#111" stroke="#111" stroke-width="0.2">-.11</text></g><g transform="translate(274.1,345.5) rotate(29.33) scale(0.95,1)"><rect x="-8.21" y="-3.61" width="16.42" height="7.22" fill="#fff"/><text x="0" y="3.1" text-anchor="middle" font-size="8.6" fill="#111" stroke="#111" stroke-width="0.2">-.12</text></g><g transform="translate(129,328.5) rotate(24.76) scale(0.95,1)"><rect x="-24.68" y="-8.56" width="49.36" height="7.22" fill="#fff"/><text x="-23.88" y="-1.85" font-size="8.6" fill="#111" stroke="#111" stroke-width="0.2">-.18 (MAT</text><line x1="14.22" y1="-4.08" x2="19.33" y2="-4.08" stroke="#111" stroke-width="0.73"/><polygon points="20.67,-4.08 18.44,-5.37 18.44,-2.79" fill="#111"/><text x="21.02" y="-1.85" font-size="8.6" fill="#111" stroke="#111" stroke-width="0.2">)</text><rect x="-22.37" y="1.33" width="44.74" height="7.22" fill="#fff"/><text x="-21.57" y="8.04" font-size="8.6" fill="#111" stroke="#111" stroke-width="0.2">.22 (CMI</text><line x1="11.91" y1="5.8" x2="17.02" y2="5.8" stroke="#111" stroke-width="0.73"/><polygon points="18.36,5.8 16.13,4.51 16.13,7.09" fill="#111"/><text x="18.71" y="8.04" font-size="8.6" fill="#111" stroke="#111" stroke-width="0.2">)</text></g><g transform="translate(193.7,455) rotate(81.41) scale(0.95,1)"><rect x="-8.21" y="-3.61" width="16.42" height="7.22" fill="#fff"/><text x="0" y="3.1" text-anchor="middle" font-size="8.6" fill="#111" stroke="#111" stroke-width="0.2">-.07</text></g><g transform="translate(138.5,454.5) rotate(61.26) scale(0.95,1)"><rect x="-24.68" y="-8.56" width="49.36" height="7.22" fill="#fff"/><text x="-23.88" y="-1.85" font-size="8.6" fill="#111" stroke="#111" stroke-width="0.2">-.16 (MAT</text><line x1="14.22" y1="-4.08" x2="19.33" y2="-4.08" stroke="#111" stroke-width="0.73"/><polygon points="20.67,-4.08 18.44,-5.37 18.44,-2.79" fill="#111"/><text x="21.02" y="-1.85" font-size="8.6" fill="#111" stroke="#111" stroke-width="0.2">)</text><rect x="-22.37" y="1.33" width="44.74" height="7.22" fill="#fff"/><text x="-21.57" y="8.04" font-size="8.6" fill="#111" stroke="#111" stroke-width="0.2">.17 (CMI</text><line x1="11.91" y1="5.8" x2="17.02" y2="5.8" stroke="#111" stroke-width="0.73"/><polygon points="18.36,5.8 16.13,4.51 16.13,7.09" fill="#111"/><text x="18.71" y="8.04" font-size="8.6" fill="#111" stroke="#111" stroke-width="0.2">)</text></g><g transform="translate(111.1,461) rotate(38.65) scale(0.95,1)"><rect x="-6.78" y="-3.61" width="13.55" height="7.22" fill="#fff"/><text x="0" y="3.1" text-anchor="middle" font-size="8.6" fill="#111" stroke="#111" stroke-width="0.2">.07</text></g><g transform="translate(165.3,454.9) rotate(67.44) scale(0.95,1)"><rect x="-6.78" y="-3.61" width="13.55" height="7.22" fill="#fff"/><text x="0" y="3.1" text-anchor="middle" font-size="8.6" fill="#111" stroke="#111" stroke-width="0.2">.37</text></g><g transform="translate(261.7,460.3) rotate(-61.17) scale(0.95,1)"><rect x="-6.78" y="-3.61" width="13.55" height="7.22" fill="#fff"/><text x="0" y="3.1" text-anchor="middle" font-size="8.6" fill="#111" stroke="#111" stroke-width="0.2">.06</text></g><g transform="translate(279,470.2) rotate(-38.66) scale(0.95,1)"><rect x="-6.78" y="-3.61" width="13.55" height="7.22" fill="#fff"/><text x="0" y="3.1" text-anchor="middle" font-size="8.6" fill="#111" stroke="#111" stroke-width="0.2">.18</text></g><g transform="translate(81.6,322.3) rotate(44.84) scale(0.95,1)"><rect x="-24.68" y="-8.56" width="49.36" height="7.22" fill="#fff"/><text x="-23.88" y="-1.85" font-size="8.6" fill="#111" stroke="#111" stroke-width="0.2">-.15 (MAT</text><line x1="14.22" y1="-4.08" x2="19.33" y2="-4.08" stroke="#111" stroke-width="0.73"/><polygon points="20.67,-4.08 18.44,-5.37 18.44,-2.79" fill="#111"/><text x="21.02" y="-1.85" font-size="8.6" fill="#111" stroke="#111" stroke-width="0.2">)</text><rect x="-22.37" y="1.33" width="44.74" height="7.22" fill="#fff"/><text x="-21.57" y="8.04" font-size="8.6" fill="#111" stroke="#111" stroke-width="0.2">.21 (CMI</text><line x1="11.91" y1="5.8" x2="17.02" y2="5.8" stroke="#111" stroke-width="0.73"/><polygon points="18.36,5.8 16.13,4.51 16.13,7.09" fill="#111"/><text x="18.71" y="8.04" font-size="8.6" fill="#111" stroke="#111" stroke-width="0.2">)</text></g><g transform="translate(278.9,364.6) rotate(17.18) scale(0.95,1)"><rect x="-23.8" y="-3.61" width="47.61" height="7.22" fill="#fff"/><text x="-23" y="3.1" font-size="8.6" fill="#111" stroke="#111" stroke-width="0.2">-.18 (CMI</text><line x1="13.35" y1="0.86" x2="18.45" y2="0.86" stroke="#111" stroke-width="0.73"/><polygon points="19.8,0.86 17.56,-0.43 17.56,2.15" fill="#111"/><text x="20.14" y="3.1" font-size="8.6" fill="#111" stroke="#111" stroke-width="0.2">)</text></g><line x1="49" y1="292.5" x2="257.74" y2="357.02" stroke="#111" stroke-width="2" stroke-linecap="butt"/><line x1="300.64" y1="370.28" x2="330.11" y2="379.39" stroke="#111" stroke-width="2" stroke-linecap="butt"/><polyline points="326.32,381.15 331.44,379.8 327.97,375.8" fill="none" stroke="#111" stroke-width="2" stroke-linejoin="round" stroke-linecap="round"/><line x1="84" y1="395.7" x2="89" y2="395.7" stroke="#7f7f7f" stroke-width="1.2" stroke-linecap="butt"/><line x1="101" y1="395.7" x2="114.5" y2="395.7" stroke="#7f7f7f" stroke-width="1.2" stroke-linecap="butt"/><polyline points="85.7,393.1 82.5,395.7 85.7,398.3" fill="none" stroke="#7f7f7f" stroke-width="1.2" stroke-linejoin="round" stroke-linecap="round"/><polyline points="112.7,398.3 115.9,395.7 112.7,393.1" fill="none" stroke="#7f7f7f" stroke-width="1.2" stroke-linejoin="round" stroke-linecap="round"/><text x="95.2" y="398.7" text-anchor="middle" font-size="8.6" font-weight="normal" fill="#555" stroke="#555" stroke-width="0.2">.12</text><polygon points="285.5,395.7 294.5,390.9 292.6,394.3 300,394.3 300,397.1 292.6,397.1 294.5,400.5" fill="#7f7f7f"/><polygon points="320.2,395.7 311.2,390.9 313.1,394.3 306,394.3 306,397.1 313.1,397.1 311.2,400.5" fill="#7f7f7f"/><rect x="298.6" y="392.4" width="12.6" height="6.6" fill="#fff"/><text x="305" y="398.8" text-anchor="middle" font-size="8.8" font-weight="normal" fill="#333" stroke="#333" stroke-width="0.2">.59</text><path d="M179.5,412.7 Q251.5,433 324.2,412.7" fill="none" stroke="#7f7f7f" stroke-width="2.9"/><line x1="178.9" y1="411.2" x2="178.9" y2="419.8" stroke="#7f7f7f" stroke-width="2.7" stroke-linecap="butt"/><line x1="324.4" y1="411.2" x2="324.4" y2="419.5" stroke="#7f7f7f" stroke-width="2.7" stroke-linecap="butt"/><rect x="221.5" y="419.3" width="13.5" height="7" fill="#fff"/><text x="228.3" y="425.9" text-anchor="middle" font-size="8.8" font-weight="normal" fill="#222" stroke="#222" stroke-width="0.2">.62</text><text x="49.1" y="284.8" text-anchor="middle" font-size="10.7" font-weight="normal" fill="#1a1a1a" stroke="#1a1a1a" stroke-width="0.2">Climate</text><text x="159" y="284.4" text-anchor="middle" font-size="10.7" font-weight="normal" fill="#1a1a1a" stroke="#1a1a1a" stroke-width="0.2">Soil pH</text><text x="242.5" y="284.1" text-anchor="middle" font-size="10.7" font-weight="normal" fill="#1a1a1a" stroke="#1a1a1a" stroke-width="0.2">WTD</text><text x="353.6" y="284.2" text-anchor="middle" font-size="10.7" font-weight="normal" fill="#1a1a1a" stroke="#1a1a1a" stroke-width="0.2">Disturbance</text><text x="48.7" y="394.9" text-anchor="middle" font-size="10.6" fill="#1a1a1a" stroke="#1a1a1a" stroke-width="0.2">CWM<tspan font-size="7.2" dy="2.2">PC1</tspan></text><text x="51" y="410.1" text-anchor="middle" font-size="9.6" fill="#1a1a1a" stroke="#1a1a1a" stroke-width="0.2"><tspan font-style="italic">R</tspan><tspan font-size="6.6" dy="-3.4">2</tspan><tspan dy="3.4">=.18</tspan></text><text x="149.3" y="395" text-anchor="middle" font-size="10.6" fill="#1a1a1a" stroke="#1a1a1a" stroke-width="0.2">CWM<tspan font-size="7.2" dy="2.2">PC2</tspan></text><text x="150" y="410.1" text-anchor="middle" font-size="9.6" fill="#1a1a1a" stroke="#1a1a1a" stroke-width="0.2"><tspan font-style="italic">R</tspan><tspan font-size="6.6" dy="-3.4">2</tspan><tspan dy="3.4">=.10</tspan></text><text x="252.3" y="394.4" text-anchor="middle" font-size="10.6" fill="#1a1a1a" stroke="#1a1a1a" stroke-width="0.2">FD<tspan font-size="7.8" dy="2.8">is</tspan><tspan dy="-2.8"> RE traits</tspan><tspan font-size="7.2" dy="2.2"></tspan></text><text x="254.1" y="410.1" text-anchor="middle" font-size="9.6" fill="#1a1a1a" stroke="#1a1a1a" stroke-width="0.2"><tspan font-style="italic">R</tspan><tspan font-size="6.6" dy="-3.4">2</tspan><tspan dy="3.4">=.09</tspan></text><text x="353.5" y="394.9" text-anchor="middle" font-size="10.6" fill="#1a1a1a" stroke="#1a1a1a" stroke-width="0.2">FD<tspan font-size="7.8" dy="2.8">is</tspan><tspan dy="-2.8"> PS traits</tspan><tspan font-size="7.2" dy="2.2"></tspan></text><text x="355" y="410.1" text-anchor="middle" font-size="9.6" fill="#1a1a1a" stroke="#1a1a1a" stroke-width="0.2"><tspan font-style="italic">R</tspan><tspan font-size="6.6" dy="-3.4">2</tspan><tspan dy="3.4">=.07</tspan></text><text x="201" y="509.1" text-anchor="middle" font-size="10.5" font-weight="bold" fill="#1a1a1a" stroke="#1a1a1a" stroke-width="0.2">Stability</text><text x="201" y="521.8" text-anchor="middle" font-size="10" fill="#1a1a1a" stroke="#1a1a1a" stroke-width="0.2"><tspan font-style="italic">R</tspan><tspan font-size="6.5" dy="-3.5">2</tspan><tspan dy="3.5">=.36</tspan></text><text x="-0.9" y="281.2" text-anchor="start" font-size="18" font-weight="bold" fill="#1a1a1a" stroke="#1a1a1a" stroke-width="0.2">c</text><line x1="466.6" y1="7.3" x2="466.6" y2="200.6" stroke="#333" stroke-width="1" stroke-linecap="butt"/><line x1="466.6" y1="126.3" x2="685" y2="126.3" stroke="#333" stroke-width="1" stroke-linecap="butt"/><line x1="466.6" y1="38.46" x2="469.6" y2="38.46" stroke="#333" stroke-width="1" stroke-linecap="butt"/><text x="464.2" y="42.46" text-anchor="end" font-size="11.2" font-weight="normal" fill="#222" stroke="#222" stroke-width="0.2">0.4</text><line x1="466.6" y1="82.38" x2="469.6" y2="82.38" stroke="#333" stroke-width="1" stroke-linecap="butt"/><text x="464.2" y="86.38" text-anchor="end" font-size="11.2" font-weight="normal" fill="#222" stroke="#222" stroke-width="0.2">0.2</text><line x1="466.6" y1="126.3" x2="469.6" y2="126.3" stroke="#333" stroke-width="1" stroke-linecap="butt"/><text x="464.2" y="130.3" text-anchor="end" font-size="11.2" font-weight="normal" fill="#222" stroke="#222" stroke-width="0.2">0.0</text><line x1="466.6" y1="170.22" x2="469.6" y2="170.22" stroke="#333" stroke-width="1" stroke-linecap="butt"/><text x="464.2" y="174.22" text-anchor="end" font-size="11.2" font-weight="normal" fill="#222" stroke="#222" stroke-width="0.2">−0.2</text><text transform="translate(438.3,106.3) rotate(-90)" text-anchor="middle" font-size="12" fill="#222" textLength="121" lengthAdjust="spacingAndGlyphs" stroke="#222" stroke-width="0.2">Standardized total effect</text><line x1="480.9" y1="33.2" x2="480.9" y2="55.1" stroke="#5fcfb3" stroke-width="1.7" stroke-linecap="butt"/><circle cx="480.9" cy="43.9" r="3.1" fill="#2bbd9b"/><line x1="504.5" y1="55.4" x2="504.5" y2="73.9" stroke="#5fcfb3" stroke-width="1.7" stroke-linecap="butt"/><circle cx="504.5" cy="64.7" r="3.1" fill="#2bbd9b"/><line x1="528.3" y1="91.5" x2="528.3" y2="113.2" stroke="#5fcfb3" stroke-width="1.7" stroke-linecap="butt"/><circle cx="528.3" cy="103.4" r="3.1" fill="#2bbd9b"/><line x1="552.1" y1="95.3" x2="552.1" y2="118.4" stroke="#5fcfb3" stroke-width="1.7" stroke-linecap="butt"/><circle cx="552.1" cy="107.9" r="3.1" fill="#2bbd9b"/><line x1="575.7" y1="99.2" x2="575.7" y2="120" stroke="#5fcfb3" stroke-width="1.7" stroke-linecap="butt"/><circle cx="575.7" cy="110" r="3.1" fill="#2bbd9b"/><line x1="599.5" y1="122.1" x2="599.5" y2="141.8" stroke="#5fcfb3" stroke-width="1.7" stroke-linecap="butt"/><circle cx="599.5" cy="130.5" r="3.1" fill="#2bbd9b"/><line x1="623.3" y1="126.4" x2="623.3" y2="149.8" stroke="#5fcfb3" stroke-width="1.7" stroke-linecap="butt"/><circle cx="623.3" cy="137.9" r="3.1" fill="#2bbd9b"/><line x1="646.8" y1="138.3" x2="646.8" y2="160.7" stroke="#5fcfb3" stroke-width="1.7" stroke-linecap="butt"/><circle cx="646.8" cy="150.2" r="3.1" fill="#2bbd9b"/><line x1="670.6" y1="149.1" x2="670.6" y2="170.3" stroke="#5fcfb3" stroke-width="1.7" stroke-linecap="butt"/><circle cx="670.6" cy="158.5" r="3.1" fill="#2bbd9b"/><text transform="translate(487.3,210.8) rotate(-44) scale(0.97,1)" text-anchor="end" font-size="11.5" fill="#222" stroke="#222" stroke-width="0.2"><tspan font-size="11.9">CWM</tspan><tspan font-size="8.6" dy="2.4">PC2</tspan></text><text transform="translate(509.7,212.6) rotate(-44) scale(0.97,1)" text-anchor="end" font-size="11.5" fill="#222" stroke="#222" stroke-width="0.2">CMI</text><text transform="translate(534.7,210.8) rotate(-44) scale(0.97,1)" text-anchor="end" font-size="11.5" fill="#222" stroke="#222" stroke-width="0.2"><tspan font-size="11.9">CWM</tspan><tspan font-size="8.6" dy="2.4">PC1</tspan></text><text transform="translate(557.3,212.6) rotate(-44) scale(0.97,1)" text-anchor="end" font-size="11.5" fill="#222" stroke="#222" stroke-width="0.2">Disturbance</text><text transform="translate(580.9,212.6) rotate(-44) scale(0.97,1)" text-anchor="end" font-size="11.5" fill="#222" stroke="#222" stroke-width="0.2">FD<tspan font-size="8" dy="1.5">is</tspan><tspan dy="-1.5"> PS traits</tspan></text><text transform="translate(604.7,212.6) rotate(-44) scale(0.97,1)" text-anchor="end" font-size="11.5" fill="#222" stroke="#222" stroke-width="0.2">FD<tspan font-size="8" dy="1.5">is</tspan><tspan dy="-1.5"> RE traits</tspan></text><text transform="translate(628.5,212.6) rotate(-44) scale(0.97,1)" text-anchor="end" font-size="11.5" fill="#222" stroke="#222" stroke-width="0.2">soil pH</text><text transform="translate(652,212.6) rotate(-44) scale(0.97,1)" text-anchor="end" font-size="11.5" fill="#222" stroke="#222" stroke-width="0.2">WTD</text><text transform="translate(675.8,212.6) rotate(-44) scale(0.97,1)" text-anchor="end" font-size="11.5" fill="#222" stroke="#222" stroke-width="0.2">MAT</text><text transform="translate(429.3,17.7) scale(0.93,1)" font-size="18" font-weight="bold" fill="#1a1a1a" stroke="#1a1a1a" stroke-width="0.2">b</text><line x1="466.6" y1="271.4" x2="466.6" y2="464.7" stroke="#333" stroke-width="1" stroke-linecap="butt"/><line x1="466.6" y1="390.4" x2="685" y2="390.4" stroke="#333" stroke-width="1" stroke-linecap="butt"/><line x1="466.6" y1="302.56" x2="469.6" y2="302.56" stroke="#333" stroke-width="1" stroke-linecap="butt"/><text x="464.2" y="306.56" text-anchor="end" font-size="11.2" font-weight="normal" fill="#222" stroke="#222" stroke-width="0.2">0.4</text><line x1="466.6" y1="346.48" x2="469.6" y2="346.48" stroke="#333" stroke-width="1" stroke-linecap="butt"/><text x="464.2" y="350.48" text-anchor="end" font-size="11.2" font-weight="normal" fill="#222" stroke="#222" stroke-width="0.2">0.2</text><line x1="466.6" y1="390.4" x2="469.6" y2="390.4" stroke="#333" stroke-width="1" stroke-linecap="butt"/><text x="464.2" y="394.4" text-anchor="end" font-size="11.2" font-weight="normal" fill="#222" stroke="#222" stroke-width="0.2">0.0</text><line x1="466.6" y1="434.32" x2="469.6" y2="434.32" stroke="#333" stroke-width="1" stroke-linecap="butt"/><text x="464.2" y="438.32" text-anchor="end" font-size="11.2" font-weight="normal" fill="#222" stroke="#222" stroke-width="0.2">−0.2</text><text transform="translate(438.3,370.4) rotate(-90)" text-anchor="middle" font-size="12" fill="#222" textLength="121" lengthAdjust="spacingAndGlyphs" stroke="#222" stroke-width="0.2">Standardized total effect</text><line x1="480.9" y1="319.2" x2="480.9" y2="343.7" stroke="#d7a3d7" stroke-width="1.7" stroke-linecap="butt"/><circle cx="480.9" cy="331.1" r="3.1" fill="#c47cc4"/><line x1="504.5" y1="332.2" x2="504.5" y2="356.5" stroke="#d7a3d7" stroke-width="1.7" stroke-linecap="butt"/><circle cx="504.5" cy="345" r="3.1" fill="#c47cc4"/><line x1="528.3" y1="354.2" x2="528.3" y2="378.7" stroke="#d7a3d7" stroke-width="1.7" stroke-linecap="butt"/><circle cx="528.3" cy="366.1" r="3.1" fill="#c47cc4"/><line x1="552.1" y1="358.2" x2="552.1" y2="384.7" stroke="#d7a3d7" stroke-width="1.7" stroke-linecap="butt"/><circle cx="552.1" cy="372.8" r="3.1" fill="#c47cc4"/><line x1="575.7" y1="364.1" x2="575.7" y2="387.9" stroke="#d7a3d7" stroke-width="1.7" stroke-linecap="butt"/><circle cx="575.7" cy="376" r="3.1" fill="#c47cc4"/><line x1="599.5" y1="386.3" x2="599.5" y2="410.8" stroke="#d7a3d7" stroke-width="1.7" stroke-linecap="butt"/><circle cx="599.5" cy="398.4" r="3.1" fill="#c47cc4"/><line x1="623.3" y1="393" x2="623.3" y2="417.9" stroke="#d7a3d7" stroke-width="1.7" stroke-linecap="butt"/><circle cx="623.3" cy="405.1" r="3.1" fill="#c47cc4"/><line x1="646.8" y1="397.1" x2="646.8" y2="424" stroke="#d7a3d7" stroke-width="1.7" stroke-linecap="butt"/><circle cx="646.8" cy="411" r="3.1" fill="#c47cc4"/><line x1="670.6" y1="402.3" x2="670.6" y2="427.5" stroke="#d7a3d7" stroke-width="1.7" stroke-linecap="butt"/><circle cx="670.6" cy="415.4" r="3.1" fill="#c47cc4"/><text transform="translate(487.3,474.9) rotate(-44) scale(0.97,1)" text-anchor="end" font-size="11.5" fill="#222" stroke="#222" stroke-width="0.2"><tspan font-size="11.9">CWM</tspan><tspan font-size="8.6" dy="2.4">PC2</tspan></text><text transform="translate(509.7,476.7) rotate(-44) scale(0.97,1)" text-anchor="end" font-size="11.5" fill="#222" stroke="#222" stroke-width="0.2">CMI</text><text transform="translate(533.5,476.7) rotate(-44) scale(0.97,1)" text-anchor="end" font-size="11.5" fill="#222" stroke="#222" stroke-width="0.2">FD<tspan font-size="8" dy="1.5">is</tspan><tspan dy="-1.5"> PS traits</tspan></text><text transform="translate(557.3,476.7) rotate(-44) scale(0.97,1)" text-anchor="end" font-size="11.5" fill="#222" stroke="#222" stroke-width="0.2">Disturbance</text><text transform="translate(582.1,474.9) rotate(-44) scale(0.97,1)" text-anchor="end" font-size="11.5" fill="#222" stroke="#222" stroke-width="0.2"><tspan font-size="11.9">CWM</tspan><tspan font-size="8.6" dy="2.4">PC1</tspan></text><text transform="translate(604.7,476.7) rotate(-44) scale(0.97,1)" text-anchor="end" font-size="11.5" fill="#222" stroke="#222" stroke-width="0.2">FD<tspan font-size="8" dy="1.5">is</tspan><tspan dy="-1.5"> RE traits</tspan></text><text transform="translate(628.5,476.7) rotate(-44) scale(0.97,1)" text-anchor="end" font-size="11.5" fill="#222" stroke="#222" stroke-width="0.2">WTD</text><text transform="translate(652,476.7) rotate(-44) scale(0.97,1)" text-anchor="end" font-size="11.5" fill="#222" stroke="#222" stroke-width="0.2">soil pH</text><text transform="translate(675.8,476.7) rotate(-44) scale(0.97,1)" text-anchor="end" font-size="11.5" fill="#222" stroke="#222" stroke-width="0.2">MAT</text><text transform="translate(429.3,281.3) scale(0.93,1)" font-size="18" font-weight="bold" fill="#1a1a1a" stroke="#1a1a1a" stroke-width="0.2">d</text></svg></body></html>
